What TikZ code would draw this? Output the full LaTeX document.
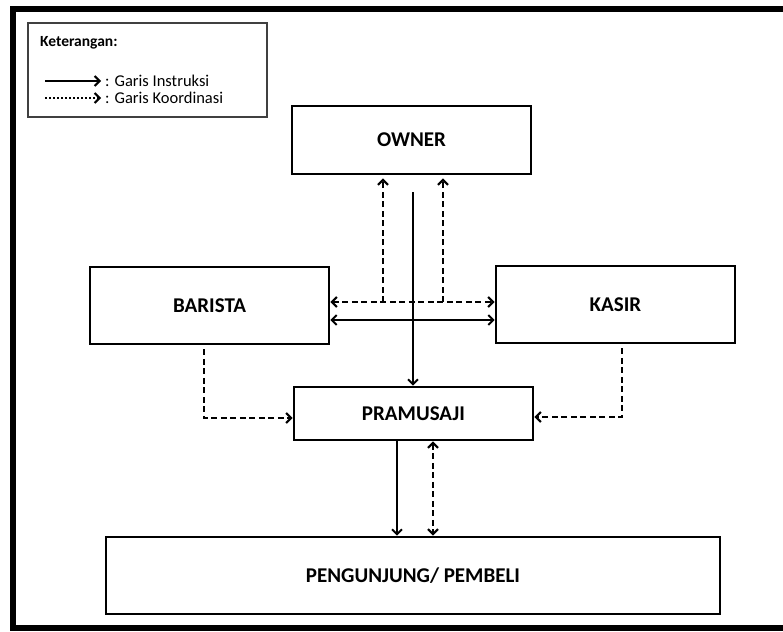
\documentclass[tikz,border=0pt]{standalone}
\usepackage{fontspec}
\setmainfont{Carlito}
\usetikzlibrary{arrows.meta,calc}
\tikzset{
    box/.style={draw, line width=2.6pt, inner sep=0pt, align=center,
                font=\bfseries\fontsize{21}{25}\selectfont},
    legendbox/.style={draw=black!75, line width=1.2pt, inner sep=0pt},
    instr/.style={-{Straight Barb[length=5pt,width=10pt]}, line width=2pt},
    koord/.style={instr, line width=2.2pt, dash pattern=on 6pt off 3.5pt},
    titik/.style={instr, dotted},
    note/.style={font=\fontsize{16.5}{19}\selectfont, inner sep=0pt},
    frame/.style={line width=6pt},
}
\begin{document}
\begin{tikzpicture}[x=1pt, y=-1pt]

    \useasboundingbox (0,0) rectangle (783,631);
    \draw[frame] (783,9) -- (13,9) -- (13,628) -- (783,628);

    % legend
    \node[legendbox, minimum width=239pt, minimum height=94pt] (legend) at (147.5,70) {};
    \node[note, font=\bfseries\fontsize{15.5}{18}\selectfont, anchor=west] (ket) at (40,43) {Keterangan:};
    \coordinate (ia) at (45,81);
    \coordinate (ib) at (101,81);
    \coordinate (ka) at (45,98);
    \coordinate (kb) at (101,98);
    \draw[instr] (ia) -- (ib);
    \draw[titik] (ka) -- (kb);
    \node[note, anchor=west, xshift=4pt] (ltext1) at (ib) {: Garis Instruksi};
    \node[note, anchor=west, xshift=4pt] (ltext2) at (kb) {: Garis Koordinasi};

    % boxes
    \node[box, minimum width=239pt, minimum height=68pt] (owner) at (411.5,140) {OWNER};
    \node[box, minimum width=239pt, minimum height=77pt] (barista) at (209.5,305.5) {BARISTA};
    \node[box, minimum width=239pt, minimum height=77pt] (kasir) at (615.5,304.5) {KASIR};
    \node[box, minimum width=239pt, minimum height=53pt] (pramusaji) at (413.5,413.5) {PRAMUSAJI};
    \node[box, minimum width=614pt, minimum height=77pt] (pengunjung) at (413,575.5) {PENGUNJUNG/ PEMBELI};

    % owner to pramusaji
    \coordinate (ownerout) at (413,192);
    \draw[instr] (ownerout) -- (ownerout |- pramusaji.north);

    % barista <-> kasir
    \draw[instr, {Straight Barb[length=5pt,width=10pt]}-{Straight Barb[length=5pt,width=10pt]}]
        ([yshift=-14.5pt]barista.east) -- ([yshift=-14.5pt]barista.east -| kasir.west);
    \draw[koord, {Straight Barb[length=5pt,width=10pt]}-{Straight Barb[length=5pt,width=10pt]}]
        ([yshift=3.5pt]barista.east) -- ([yshift=3.5pt]barista.east -| kasir.west);
    \coordinate (jl) at (383,302);
    \coordinate (jr) at (443,302);
    \draw[koord, shorten >=3pt] (jl) -- (jl |- owner.south);
    \draw[koord, shorten >=3pt] (jr) -- (jr |- owner.south);

    % to pramusaji
    \draw[koord] ([xshift=-5.5pt,yshift=-4pt]barista.south) |- ([yshift=-4.5pt]pramusaji.west);
    \draw[koord] ([xshift=6.5pt,yshift=-4pt]kasir.south) |- ([yshift=-3.5pt]pramusaji.east);

    % pramusaji to pengunjung
    \draw[instr] ([xshift=-16.5pt]pramusaji.south) -- ([xshift=-16.5pt]pramusaji.south |- pengunjung.north);
    \draw[koord, {Straight Barb[length=5pt,width=10pt]}-{Straight Barb[length=5pt,width=10pt]}]
        ([xshift=19.5pt]pramusaji.south) -- ([xshift=19.5pt]pramusaji.south |- pengunjung.north);

\end{tikzpicture}
\end{document}
